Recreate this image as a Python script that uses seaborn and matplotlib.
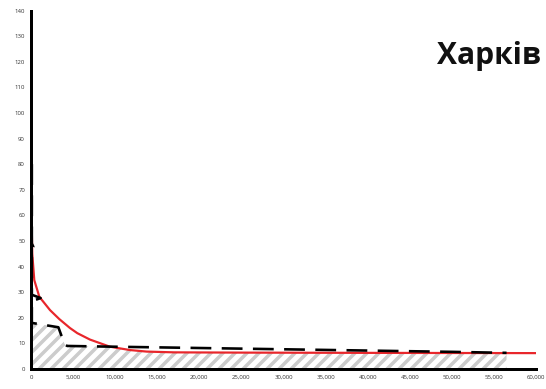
import numpy as np
import pandas as pd
import matplotlib
matplotlib.use("Agg")
import matplotlib.pyplot as plt
from matplotlib.ticker import FuncFormatter
import seaborn as sns

# Smooth fitted curve
curve_x = [20, 60, 150, 390, 990, 2260, 3360, 4630, 5500, 7000, 9380,
           11760, 13740, 17000, 25000, 40000, 60000]
curve_y = [80, 60, 45, 34.7, 28.2, 23, 19.5, 16, 14, 11.5, 8.7,
           7.4, 6.8, 6.5, 6.4, 6.3, 6.2]

# Observed series (dashed)
obs_x = [100, 100, 280, 100, 100, 1150, 100, 100, 3250, 4000, 4300,
         10000, 20000, 30000, 40000, 50000, 56500]
obs_y = [80, 49, 47.7, 46, 29, 27.7, 26.5, 18, 16.3, 9.6, 9.0,
         8.7, 8.2, 7.7, 7.2, 6.7, 6.3]

x_ticks = list(range(0, 60001, 5000))
y_ticks = list(range(0, 141, 10))
title = "Харків"

sns.set_style("white")
plt.rcParams["font.family"] = ["Open Sans", "DejaVu Sans"]
plt.rcParams["hatch.linewidth"] = 3.5
plt.rcParams["hatch.color"] = "#cccccc"

DPI = 72
fig = plt.figure(figsize=(546 / DPI, 389 / DPI), dpi=DPI)
ax = fig.add_axes([31 / 546, 20 / 389, 505 / 546, 358.5 / 389])

# Hatched area under the lower of the two lines
start = 7
fx = np.linspace(0, obs_x[-1], 800)
obs_i = np.interp(fx, obs_x[start:], obs_y[start:])
curve_i = np.interp(fx, curve_x, curve_y)
ax.fill_between(fx, 0, np.minimum(obs_i, curve_i), facecolor="none",
                edgecolor="#cccccc", hatch="//", linewidth=0, zorder=1)

curve_df = pd.DataFrame({"x": curve_x, "y": curve_y})
obs_df = pd.DataFrame({"x": obs_x, "y": obs_y})
sns.lineplot(data=curve_df, x="x", y="y", sort=False, estimator=None,
             color="#e8262b", linewidth=2.2, ax=ax, zorder=3)
sns.lineplot(data=obs_df, x="x", y="y", sort=False, estimator=None,
             color="black", linewidth=2.6, ax=ax, zorder=4)
ax.lines[-1].set_dashes([8, 4])

ax.set_xlim(0, 60000)
ax.set_ylim(0, 140)
ax.set_xticks(x_ticks)
ax.set_yticks(y_ticks)
ax.xaxis.set_major_formatter(FuncFormatter(lambda v, p: f"{int(v):,}"))
ax.set_xlabel("")
ax.set_ylabel("")

for side in ("top", "right"):
    ax.spines[side].set_visible(False)
for side in ("left", "bottom"):
    ax.spines[side].set_linewidth(3)
    ax.spines[side].set_color("black")
    ax.spines[side].set_zorder(5)
ax.tick_params(axis="both", which="major", direction="out", length=4,
               width=2.5, color="black", labelsize=6, labelcolor="#333333",
               pad=2)

fig.text(541 / 546, (389 - 64.3) / 389, title, ha="right", va="baseline",
         fontsize=30, fontweight="bold", color="#111111")

fig.savefig("out.png", dpi=DPI, facecolor="white")
